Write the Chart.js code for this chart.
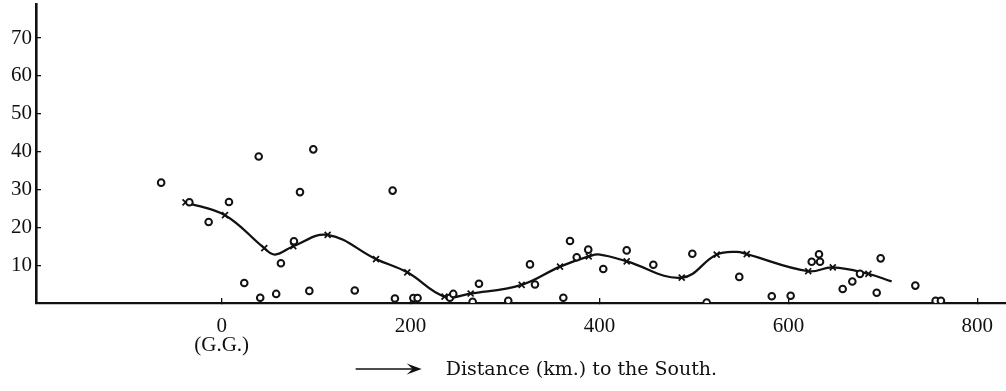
<!DOCTYPE html>
<html>
<head>
<meta charset="utf-8">
<script src="https://cdn.jsdelivr.net/npm/chart.js@4.4.0/dist/chart.umd.min.js"></script>
<style>
  html, body { margin: 0; padding: 0; background: #ffffff; }
  #wrap { width: 1006px; height: 391px; position: relative; }
</style>
</head>
<body>
<div id="wrap"><canvas id="c" width="1006" height="391"></canvas></div>
<script>
// ---- Data ----
const circleX = [-64.1, -34.2, -13.8, 7.7, 23.9, 39.2, 40.8, 57.7, 62.7, 76.5, 82.9, 92.8, 97.0, 140.9, 181.0, 183.4, 202.9, 207.4, 241.6, 245.2, 265.7, 272.4, 303.4, 326.4, 331.7, 361.7, 368.8, 375.9, 388.1, 404.0, 428.8, 457.0, 498.3, 513.5, 548.0, 582.4, 602.4, 624.7, 632.4, 633.5, 657.5, 667.7, 675.8, 693.5, 697.7, 734.4, 755.9, 761.5];
const circleY = [31.8, 26.6, 21.4, 26.7, 5.3, 38.7, 1.4, 2.4, 10.5, 16.3, 29.3, 3.2, 40.6, 3.3, 29.7, 1.2, 1.3, 1.3, 1.4, 2.4, 0.3, 5.1, 0.6, 10.2, 4.9, 1.4, 16.4, 12.1, 14.1, 9.0, 13.9, 10.1, 13.0, 0.1, 6.9, 1.8, 1.9, 10.9, 12.9, 10.9, 3.7, 5.7, 7.7, 2.7, 11.8, 4.6, 0.6, 0.6];

const crossX = [-38.3, 3.5, 45.1, 75.8, 112.2, 163.4, 196.5, 235.9, 263.6, 317.6, 358.2, 388.6, 428.8, 487.1, 524.1, 555.9, 621.0, 647.0, 684.7];
const crossY = [26.6, 23.2, 14.5, 15.0, 18.0, 11.6, 8.1, 1.7, 2.5, 4.8, 9.6, 12.3, 11.0, 6.7, 12.8, 12.9, 8.4, 9.4, 7.7];

const curveX = [-38.3, 3.5, 45.1, 56.4, 75.8, 112.2, 163.4, 196.5, 235.9, 263.6, 317.6, 358.2, 388.6, 400.5, 428.8, 487.1, 524.1, 545.3, 555.9, 621.0, 647.0, 684.7, 709.3];
const curveY = [26.6, 23.2, 14.5, 12.8, 15.0, 18.0, 11.6, 8.1, 1.7, 2.5, 4.8, 9.6, 12.3, 12.8, 11.0, 6.7, 12.8, 13.5, 12.9, 8.4, 9.4, 7.7, 5.7];

const xTickValues = [0, 200, 400, 600, 800];
const xTickLabels = [['0', '(G.G.)'], '200', '400', '600', '800'];
const yTickValues = [10, 20, 30, 40, 50, 60, 70];
const xTitleText = 'Distance (km.) to the South.';
const titleLead = '                    ';

// ---- Build datasets ----
const toPts = (xs, ys) => xs.map((x, i) => ({ x: x, y: ys[i] }));
const INK = '#111111';

function noPadding(scale) {
  scale.paddingTop = 0;
  scale.paddingBottom = 0;
  scale.paddingLeft = 0;
  scale.paddingRight = 0;
}

const arrowPlugin = {
  id: 'titleArrow',
  afterDraw(chart) {
    const xs = chart.scales.x;
    const t = xs.options.title;
    const ctx = chart.ctx;
    const f = Chart.helpers.toFont(t.font);
    ctx.save();
    ctx.font = f.string;
    const full = t.text;
    const w = ctx.measureText(full).width;
    const lead = full.length - full.trimStart().length;
    const s = ctx.measureText(full.slice(0, lead)).width;
    const cx = (xs.left + xs.right) / 2;
    const textStart = cx - w / 2 + s;
    const pad = Chart.helpers.toPadding(t.padding);
    const y = xs.bottom - (f.lineHeight / 2 + pad.bottom) - 1;
    const end = textStart - 24;
    const start = end - 66;
    ctx.strokeStyle = INK;
    ctx.fillStyle = INK;
    ctx.lineWidth = 1.6;
    ctx.beginPath();
    ctx.moveTo(start, y);
    ctx.lineTo(end - 6, y);
    ctx.stroke();
    ctx.beginPath();
    ctx.moveTo(end, y);
    ctx.lineTo(end - 15, y - 5.5);
    ctx.lineTo(end - 9, y);
    ctx.lineTo(end - 15, y + 5.5);
    ctx.closePath();
    ctx.fill();
    ctx.restore();
  }
};

new Chart(document.getElementById('c'), {
  type: 'scatter',
  data: {
    datasets: [
      {
        label: 'observations',
        data: toPts(circleX, circleY),
        pointStyle: 'circle',
        pointRadius: 3.3,
        pointBorderWidth: 2,
        pointBorderColor: INK,
        pointBackgroundColor: '#ffffff',
        order: 1
      },
      {
        label: 'means',
        data: toPts(crossX, crossY),
        pointStyle: 'crossRot',
        pointRadius: 4.2,
        pointBorderWidth: 1.7,
        pointBorderColor: INK,
        order: 2
      },
      {
        label: 'curve',
        data: toPts(curveX, curveY),
        showLine: true,
        tension: 0.4,
        borderColor: INK,
        borderWidth: 2.3,
        pointRadius: 0,
        order: 3
      }
    ]
  },
  options: {
    responsive: false,
    animation: false,
    devicePixelRatio: 1,
    layout: { autoPadding: false, padding: { top: 4, right: 0, bottom: 0, left: 0 } },
    plugins: { legend: { display: false }, tooltip: { enabled: false } },
    scales: {
      x: {
        type: 'linear',
        position: 'bottom',
        min: -196.6,
        max: 830.4,
        afterFit(scale) { scale.height = 88; noPadding(scale); },
        afterBuildTicks(scale) { scale.ticks = xTickValues.map(v => ({ value: v })); },
        ticks: {
          callback(value) {
            const i = xTickValues.indexOf(value);
            return i >= 0 ? xTickLabels[i] : '';
          },
          padding: 19,
          color: INK,
          maxRotation: 0,
          autoSkip: false,
          font: { family: '"Liberation Serif", serif', size: 21, lineHeight: 0.9 }
        },
        grid: { drawOnChartArea: false, drawTicks: true, tickLength: -5, color: INK, lineWidth: 1.3 },
        border: { display: true, color: INK, width: 2.2 },
        title: {
          display: true,
          text: titleLead + xTitleText,
          color: INK,
          font: { family: '"DejaVu Serif", serif', size: 19 },
          padding: { top: 0, bottom: 9.6 }
        }
      },
      y: {
        type: 'linear',
        position: 'left',
        min: 0,
        max: 79,
        afterFit(scale) { scale.width = 36; noPadding(scale); },
        afterBuildTicks(scale) { scale.ticks = yTickValues.map(v => ({ value: v })); },
        ticks: {
          padding: 9,
          color: INK,
          font: { family: '"Liberation Serif", serif', size: 21 }
        },
        grid: { drawOnChartArea: false, drawTicks: true, tickLength: -5, color: INK, lineWidth: 1.3 },
        border: { display: true, color: INK, width: 2.6 }
      }
    }
  },
  plugins: [arrowPlugin]
});
</script>
</body>
</html>
